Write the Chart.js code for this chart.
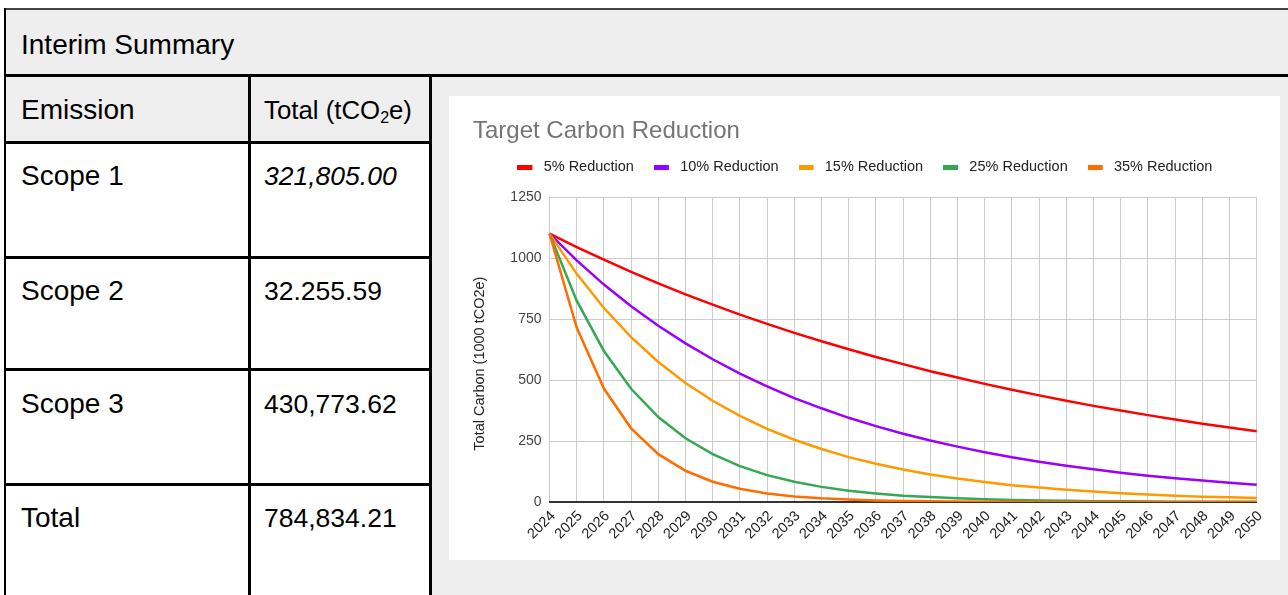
<!DOCTYPE html>
<html>
<head>
<meta charset="utf-8">
<script src="https://cdn.jsdelivr.net/npm/chart.js@4"></script>
<style>
  html, body { margin: 0; padding: 0; }
  body { width: 1288px; height: 595px; overflow: hidden; background: #fff; position: relative;
         font-family: "Liberation Sans", Arial, sans-serif; color: #000; }
  .abs { position: absolute; }
  .line { position: absolute; background: #000; }
  .txt { position: absolute; height: 64px; line-height: 64px; white-space: nowrap; }
  .lbl { font-size: 28px; }
  .num { font-size: 26.5px; }
</style>
</head>
<body>
<!-- backgrounds -->
<div class="abs" style="left:6px;top:10px;width:1282px;height:64px;background:#eeeeee"></div>
<div class="abs" style="left:6px;top:77px;width:242px;height:64px;background:#efefef"></div>
<div class="abs" style="left:251px;top:77px;width:178px;height:64px;background:#efefef"></div>
<div class="abs" style="left:432px;top:77px;width:856px;height:518px;background:#eeeeee"></div>

<!-- borders -->
<div class="line" style="left:4px;top:8px;width:1284px;height:2px;background:#444"></div>
<div class="line" style="left:4px;top:8px;width:2px;height:587px"></div>
<div class="line" style="left:4px;top:74px;width:1284px;height:3px"></div>
<div class="line" style="left:248px;top:74px;width:3px;height:521px"></div>
<div class="line" style="left:429px;top:74px;width:3px;height:521px"></div>
<div class="line" style="left:4px;top:141px;width:428px;height:3px"></div>
<div class="line" style="left:4px;top:256px;width:428px;height:3px"></div>
<div class="line" style="left:4px;top:368px;width:428px;height:3px"></div>
<div class="line" style="left:4px;top:483px;width:428px;height:3px"></div>

<!-- table text -->
<div class="txt lbl" style="left:21px;top:13px">Interim Summary</div>
<div class="txt lbl" style="left:21px;top:78px">Emission</div>
<div class="txt" style="left:264px;top:78px;font-size:25.8px">Total (tCO<sub style="font-size:0.62em;vertical-align:-0.25em;line-height:0">2</sub>e)</div>
<div class="txt lbl" style="left:21px;top:144px">Scope 1</div>
<div class="txt num" style="left:264px;top:144px;font-style:italic">321,805.00</div>
<div class="txt lbl" style="left:21px;top:259px">Scope 2</div>
<div class="txt num" style="left:264px;top:259px">32.255.59</div>
<div class="txt lbl" style="left:21px;top:372px">Scope 3</div>
<div class="txt num" style="left:264px;top:372px">430,773.62</div>
<div class="txt lbl" style="left:21px;top:486px">Total</div>
<div class="txt num" style="left:264px;top:486px">784,834.21</div>

<!-- chart -->
<div class="abs" style="left:449px;top:96px;width:831px;height:464px;background:#fff">
  <canvas id="c"></canvas>
</div>

<script>
// ---- data ----
const years = ['2024','2025','2026','2027','2028','2029','2030','2031','2032','2033','2034','2035','2036','2037','2038','2039','2040','2041','2042','2043','2044','2045','2046','2047','2048','2049','2050'];
const seriesNames = ['5% Reduction','10% Reduction','15% Reduction','25% Reduction','35% Reduction'];
const reduction5  = [1100,1045,993,943,896,851,809,768,730,693,659,626,594,565,536,510,484,460,437,415,394,375,356,338,321,305,290];
const reduction10 = [1100,990,891,802,722,650,585,526,474,426,384,345,311,280,252,227,204,183,165,149,134,120,108,97,88,79,71];
const reduction15 = [1100,935,795,676,574,488,415,353,300,255,217,184,157,133,113,96,82,69,59,50,43,36,31,26,22,19,16];
const reduction25 = [1100,825,619,464,348,261,196,147,110,83,62,46,35,26,20,15,11,8,6,5,3.5,2.6,2,1.5,1.1,0.8,0.6];
const reduction35 = [1100,715,465,302,196,128,83,54,35,23,15,10,6,4,2.6,1.7,1.1,0.7,0.5,0.3,0.2,0.1,0.1,0.1,0,0,0];
const yTickValues = [0,250,500,750,1000,1250];

const seriesValues = [reduction5, reduction10, reduction15, reduction25, reduction35];
const colors = ['#ff0000','#9900ff','#ff9900','#34a853','#ff6d01'];
const FONT = '"Liberation Sans", Arial, sans-serif';

function legendMark(color) {
  const c = document.createElement('canvas');
  c.width = 19; c.height = 5;
  const g = c.getContext('2d');
  g.fillStyle = color;
  g.fillRect(0, 0, 15, 5);
  return c;
}

const datasets = seriesNames.map((name, i) => ({
  label: name,
  data: seriesValues[i],
  borderColor: colors[i],
  backgroundColor: colors[i],
  borderWidth: 2.5,
  pointRadius: 0,
  pointHoverRadius: 0,
  pointStyle: legendMark(colors[i]),
  tension: 0,
  fill: false,
  order: seriesNames.length - 1 - i
}));

const LEGEND_H = 57.2;
const legendHeightPlugin = {
  id: 'legendHeight',
  beforeInit(chart) {
    const lg = chart.legend;
    if (lg && !lg._patched) {
      const orig = lg.fit;
      lg.fit = function () { orig.call(this); this.height = LEGEND_H; };
      lg._patched = true;
    }
  }
};

new Chart(document.getElementById('c'), {
  type: 'line',
  data: { labels: years, datasets },
  plugins: [legendHeightPlugin],
  options: {
    responsive: true,
    maintainAspectRatio: false,
    animation: false,
    devicePixelRatio: 1,
    layout: { padding: { left: 24, right: 23.3, top: 0, bottom: 0 } },
    plugins: {
      title: {
        display: true,
        text: 'Target Carbon Reduction',
        align: 'start',
        color: '#757575',
        font: { family: FONT, size: 24, weight: 'normal', lineHeight: 0.7 },
        padding: { top: 27, bottom: 0 }
      },
      legend: {
        display: true,
        position: 'top',
        align: 'center',
        labels: {
          usePointStyle: true,
          pointStyleWidth: 19,
          padding: 20,
          color: '#222',
          font: { family: FONT, size: 14.5 },
          sort: (a, b) => a.datasetIndex - b.datasetIndex
        }
      },
      tooltip: { enabled: false }
    },
    scales: {
      x: {
        offset: false,
        grid: { color: '#cccccc', lineWidth: 1, drawTicks: false, offset: false },
        border: { display: true, color: '#333333', width: 2 },
        ticks: {
          color: '#222',
          font: { family: FONT, size: 14.5 },
          autoSkip: false,
          maxRotation: 45,
          minRotation: 45,
          padding: 5.6,
          labelOffset: 3.5
        },
        afterFit(s) { s.height = 58; }
      },
      y: {
        min: yTickValues[0],
        max: yTickValues[yTickValues.length - 1],
        afterBuildTicks(s) { s.ticks = yTickValues.map(v => ({ value: v })); },
        grid: { color: (ctx) => (ctx.tick && ctx.tick.value === 0) ? 'rgba(0,0,0,0)' : '#cccccc', lineWidth: 1, drawTicks: false },
        border: { display: false },
        ticks: {
          color: '#444',
          font: { family: FONT, size: 14 },
          padding: 8,
          callback: (v) => String(v)
        },
        title: {
          display: true,
          text: 'Total Carbon (1000 tCO2e)' + '       ',
          color: '#222',
          font: { family: FONT, size: 14.5, lineHeight: 1 },
          padding: { top: 0, bottom: 0 }
        },
        afterFit(s) { s.width = 76.5; }
      }
    }
  }
});
</script>
</body>
</html>
